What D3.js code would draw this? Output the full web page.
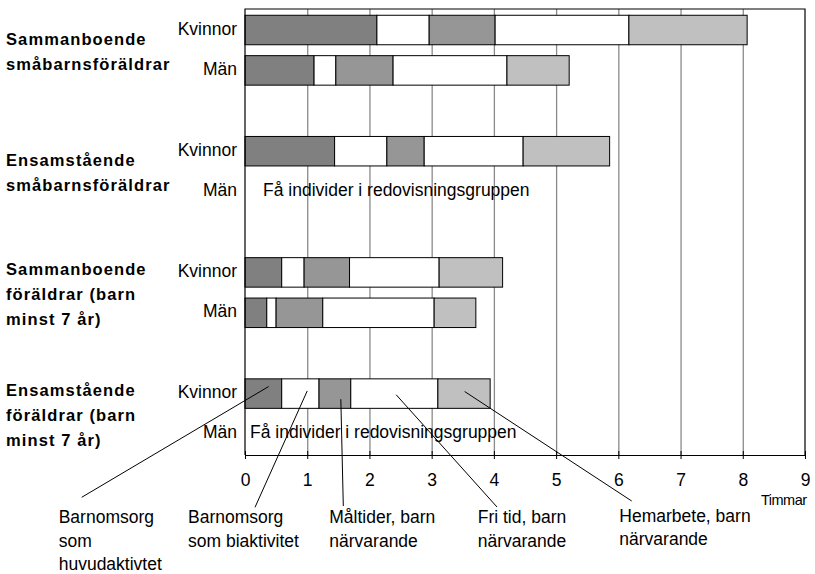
<!DOCTYPE html>
<html>
<head>
<meta charset="utf-8">
<script src="https://cdn.jsdelivr.net/npm/d3@7"></script>
<style>
  body { margin: 0; background: #fff; }
  svg text { font-family: "Liberation Sans", Arial, sans-serif; fill: #000; }
</style>
</head>
<body>
<svg id="chart" width="815" height="574"></svg>
<script>
// ---- data -------------------------------------------------------------
const groupLabels = [
  ["Sammanboende", "småbarnsföräldrar"],
  ["Ensamstående", "småbarnsföräldrar"],
  ["Sammanboende", "föräldrar (barn", "minst 7 år)"],
  ["Ensamstående", "föräldrar (barn", "minst 7 år)"]
];
const sexes = ["Kvinnor", "Män"];
const activityKeys = ["huvud", "bi", "maltid", "fritid", "hemarbete"];

// hours per day, one entry per group × sex (Kvinnor, Män); null = too few individuals
const huvudaktivitet = [2.12, 1.11, 1.44, null, 0.59, 0.35, 0.59, null];
const biaktivitet    = [0.84, 0.35, 0.84, null, 0.36, 0.15, 0.60, null];
const maltider       = [1.06, 0.92, 0.60, null, 0.73, 0.75, 0.51, null];
const friTid         = [2.15, 1.83, 1.59, null, 1.44, 1.79, 1.40, null];
const hemarbete      = [1.90, 1.00, 1.39, null, 1.02, 0.67, 0.84, null];

const noDataText = "Få individer i redovisningsgruppen";
const xTicks = [0, 1, 2, 3, 4, 5, 6, 7, 8, 9];
const axisTitle = "Timmar";

const calloutText = [
  ["Barnomsorg", "som", "huvudaktivtet"],
  ["Barnomsorg", "som biaktivitet"],
  ["Måltider, barn", "närvarande"],
  ["Fri tid, barn", "närvarande"],
  ["Hemarbete, barn", "närvarande"]
];
// callouts point into this row, at these hours
const calloutRow = 6;
const calloutHours = [0.38, 1.0, 1.54, 2.43, 3.53];

// ---- layout -----------------------------------------------------------
const fills = { huvud: "#808080", bi: "#ffffff", maltid: "#969696", fritid: "#ffffff", hemarbete: "#c0c0c0" };
const plot = { left: 245, right: 805, top: 9, bottom: 455 };
const calloutAnchorFrac = [0.26, 0.41, 0.69, 0.54, 0.43];
const calloutEnds = [[81.7, 497.3], [255, 507.3], [343.3, 506], [497, 507], [631.7, 501]];
const calloutLabelPos = [[58.7, 523], [188, 523], [329.3, 523], [477.7, 523], [619.3, 521.7]];
const noDataX = [263, 250];

// ---- build rows -------------------------------------------------------
const rows = [];
groupLabels.forEach((g, gi) => sexes.forEach((s, si) => {
  const i = gi * 2 + si;
  rows.push({
    key: "r" + i, group: gi, sex: s,
    huvud: huvudaktivitet[i], bi: biaktivitet[i], maltid: maltider[i],
    fritid: friTid[i], hemarbete: hemarbete[i],
    hasData: huvudaktivitet[i] != null
  });
}));
const slots = [];
groupLabels.forEach((g, gi) => {
  slots.push("r" + gi * 2, "r" + (gi * 2 + 1));
  if (gi < groupLabels.length - 1) slots.push("gap" + gi);
});

const svg = d3.select("#chart");
const x = d3.scaleLinear().domain([0, 9]).range([plot.left, plot.right]);
const y = d3.scaleBand().domain(slots).range([plot.top, plot.bottom])
  .paddingInner(0.27).paddingOuter(0.155);
const bw = y.bandwidth();

// gridlines
svg.append("g")
  .attr("transform", `translate(0,${plot.bottom})`)
  .call(d3.axisBottom(x).tickValues(xTicks.slice(1, -1)).tickSize(-(plot.bottom - plot.top)).tickFormat(""))
  .call(g => g.select(".domain").remove())
  .call(g => g.selectAll("line").attr("stroke", "#8a8a8a").attr("stroke-width", 1.3));

// stacked bars
const stacked = d3.stack().keys(activityKeys)(rows.filter(r => r.hasData));
svg.append("g").selectAll("g").data(stacked).join("g")
  .attr("fill", d => fills[d.key])
  .selectAll("rect").data(d => d).join("rect")
  .attr("x", d => x(d[0]))
  .attr("width", d => x(d[1]) - x(d[0]))
  .attr("y", d => y(d.data.key))
  .attr("height", bw)
  .attr("stroke", "#000")
  .attr("stroke-width", 1);

// frame
svg.append("path")
  .attr("d", `M${plot.left},${plot.bottom}V${plot.top}H${plot.right}V${plot.bottom}`)
  .attr("fill", "none").attr("stroke", "#000").attr("stroke-width", 1.2);

// x axis
svg.append("g")
  .attr("transform", `translate(0,${plot.bottom})`)
  .call(d3.axisBottom(x).tickValues(xTicks).tickSizeInner(4).tickSizeOuter(0).tickPadding(15).tickFormat(d3.format("d")))
  .call(g => g.select(".domain").attr("stroke", "#000").attr("stroke-width", 1.2))
  .call(g => g.selectAll(".tick line").attr("stroke", "#000").attr("y1", -4))
  .call(g => g.selectAll("text").attr("font-size", 17.5).attr("font-family", "Liberation Sans, Arial, sans-serif").attr("fill", "#000"));

svg.append("text")
  .attr("x", 761).attr("y", 505)
  .attr("font-size", 14.5)
  .attr("letter-spacing", -0.5)
  .text(axisTitle);

// row labels
svg.append("g").selectAll("text").data(rows).join("text")
  .attr("x", plot.left - 8)
  .attr("y", d => y(d.key) + bw / 2 + 4.5)
  .attr("text-anchor", "end")
  .attr("font-size", 17.5)
  .text(d => d.sex);

// rows without data
svg.append("g").selectAll("text").data(rows.filter(r => !r.hasData)).join("text")
  .attr("x", (d, i) => noDataX[i])
  .attr("y", d => y(d.key) + bw / 2 + 4.5)
  .attr("font-size", 17.5)
  .text(noDataText);

// group labels
const lineH = 25;
groupLabels.forEach((lines, gi) => {
  const cy = (y("r" + gi * 2) + y("r" + (gi * 2 + 1)) + bw) / 2;
  const first = cy + 7.5 - (lines.length - 1) * lineH / 2;
  const t = svg.append("text")
    .attr("font-size", 16.5).attr("font-weight", "bold").attr("letter-spacing", 1.1);
  lines.forEach((ln, li) => t.append("tspan").attr("x", 6).attr("y", first + li * lineH).text(ln));
});

// callouts
const cr = rows[calloutRow];
calloutText.forEach((lines, i) => {
  const ax = x(calloutHours[i]);
  const ay = y(cr.key) + bw * calloutAnchorFrac[i];
  svg.append("line")
    .attr("x1", ax).attr("y1", ay)
    .attr("x2", calloutEnds[i][0]).attr("y2", calloutEnds[i][1])
    .attr("stroke", "#000").attr("stroke-width", 1);
  const t = svg.append("text").attr("font-size", 17.5);
  lines.forEach((ln, li) => t.append("tspan")
    .attr("x", calloutLabelPos[i][0]).attr("y", calloutLabelPos[i][1] + li * 23.5).text(ln));
});
</script>
</body>
</html>
